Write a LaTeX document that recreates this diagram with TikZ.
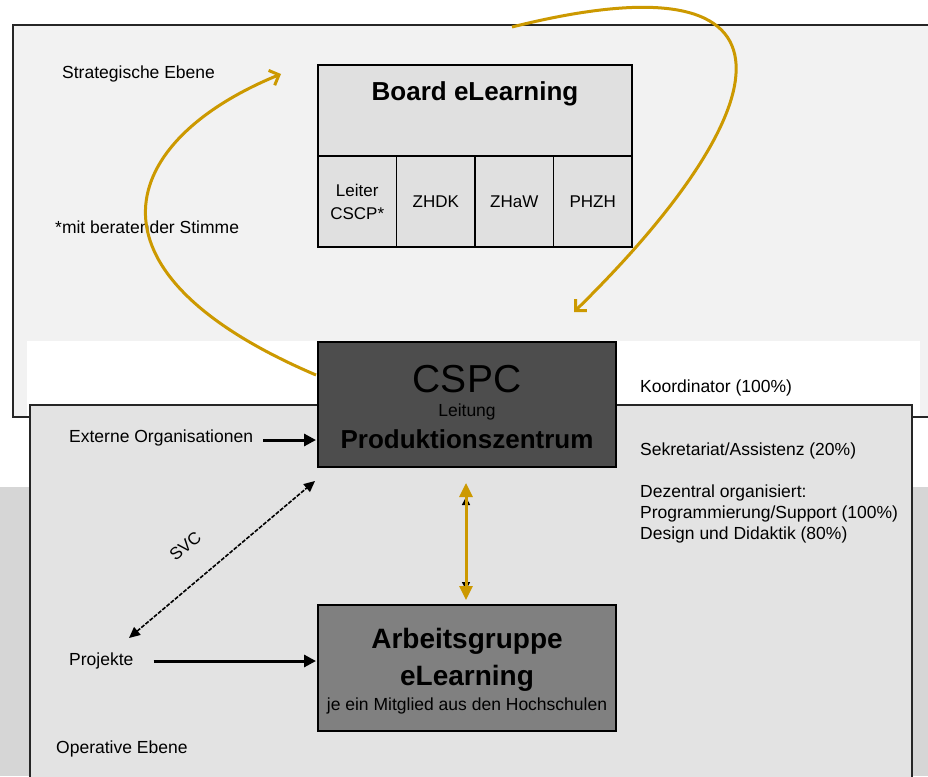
\documentclass[tikz,border=0pt]{standalone}
\usepackage{fontspec}
\setmainfont{Liberation Sans}
\usetikzlibrary{positioning, calc, arrows.meta}
\definecolor{gold}{RGB}{204,153,0}
\definecolor{upperbg}{RGB}{242,242,242}
\definecolor{lowerbg}{RGB}{227,227,227}
\definecolor{boardfill}{RGB}{224,224,224}
\definecolor{cspcfill}{RGB}{77,77,77}
\definecolor{arbfill}{RGB}{128,128,128}
\definecolor{photo}{RGB}{214,214,214}
\tikzset{
    box/.style = {draw=black, line width=1.5pt, inner sep=0pt, outer sep=0pt, anchor=north west},
    cell/.style = {box, fill=boardfill, minimum width=78.5pt, minimum height=91pt,
        align=center, font=\fontsize{17}{23}\selectfont},
    lbl/.style = {inner sep=0pt, font=\fontsize{17.5}{21}\selectfont},
    boxtitle/.style = {inner sep=0pt, anchor=base, font=\bfseries\fontsize{26}{30}\selectfont},
    frame/.style = {draw=black!85, line width=1.2pt},
    goldarrow/.style = {gold, line width=3pt},
    blackarrow/.style = {-{Triangle[length=12pt,width=12pt]}, line width=3pt},
}

\begin{document}
\begin{tikzpicture}[x=1pt, y=-1pt]
    \useasboundingbox (0,0) rectangle (928,776);
    \fill[white] (0,0) rectangle (928,776);
    \fill[photo] (0,485) rectangle (30,776);
    \fill[photo] (912,485) rectangle (928,776);
    % the two levels
    \draw[frame, fill=upperbg] (13,25) rectangle (940,417);
    \fill[white] (27,341) rectangle (920,416.4);
    \fill[white] (0,418.6) rectangle (928,487);
    \draw[frame, fill=lowerbg] (30,405) rectangle (912,790);

    \node[lbl, anchor=base west] (strat) at (62,78) {Strategische Ebene};
    \node[lbl, anchor=base west] (stimme) at (55,233) {*mit beratender Stimme};
    \node[lbl, anchor=base west] (oper) at (56,753) {Operative Ebene};

    % board
    \node[box, fill=boardfill, minimum width=314pt, minimum height=91pt] (board) at (318,65) {};
    \node[boxtitle] (boardtitle) at ($(board.north)+(0,35)$) {Board eLearning};
    \node[cell] (leiter) at (board.south west) {Leiter\\CSCP*};
    \node[cell, right=0pt of leiter] (zhdk) {ZHDK};
    \node[cell, right=0pt of zhdk] (zhaw) {ZHaW};
    \node[cell, right=0pt of zhaw] (phzh) {PHZH};

    % CSPC
    \node[box, fill=cspcfill, minimum width=298pt, minimum height=125pt] (cspc) at (318,342) {};
    \node[inner sep=0pt, anchor=base, font=\fontsize{39}{44}\selectfont] (cspcname) at ($(cspc.north)+(0,50)$) {CSPC};
    \node[lbl, anchor=base] (leitung) at ($(cspc.north)+(0,74)$) {Leitung};
    \node[boxtitle] (prod) at ($(cspc.north)+(0,106)$) {Produktionszentrum};

    % Arbeitsgruppe
    \node[box, fill=arbfill, minimum width=298pt, minimum height=126pt] (arb) at (318,605) {};
    \node[boxtitle, font=\bfseries\fontsize{28}{32}\selectfont] (arbtitle) at ($(arb.north)+(0,43)$) {Arbeitsgruppe};
    \node[boxtitle, font=\bfseries\fontsize{28}{32}\selectfont] (arbelearn) at ($(arb.north)+(0,80)$) {eLearning};
    \node[lbl, anchor=base] (mitglied) at ($(arb.north)+(0,105)$) {je ein Mitglied aus den Hochschulen};

    % right side
    \node[lbl, anchor=base west] (koord) at (640,392) {Koordinator (100\%)};
    \node[lbl, anchor=base west] (sekr) at (640,455) {Sekretariat/Assistenz (20\%)};
    \node[lbl, anchor=base west] (dez) at (640,497) {Dezentral organisiert:};
    \node[lbl, anchor=base west] (prog) at (640,518) {Programmierung/Support (100\%)};
    \node[lbl, anchor=base west] (design) at (640,539) {Design und Didaktik (80\%)};

    % left side
    \node[lbl, anchor=base west] (ext) at (69,442) {Externe Organisationen};
    \node[lbl, anchor=base west] (proj) at (69,665) {Projekte};
    \draw[blackarrow] ($(ext.base east)+(10,-2)$) -- ($(cspc.west |- ext.base)+(-2,-2)$);
    \draw[blackarrow] ($(proj.base east)+(20,-4)$) -- ($(arb.west |- proj.base)+(-2,-4)$);

    \coordinate (svcproj) at (129,638);
    \coordinate (svccspc) at (315,481);
    \draw[line width=1.6pt, dash pattern=on 4pt off 1.5pt,
        {Triangle[length=11pt,width=10pt]}-{Triangle[length=11pt,width=10pt]}] (svcproj) -- (svccspc)
        node[pos=0.42, sloped, above=27pt, inner sep=0pt, font=\fontsize{17}{20}\selectfont] (svc) {SVC};

    % gold links
    \coordinate (upTip) at (281,74);
    \coordinate (loopStart) at (512,27);
    \coordinate (downTip) at (574,312);
    \draw[goldarrow, -{Straight Barb[length=8pt,width=16pt]}]
        ($(cspc.north west)+(-2,33)$) .. controls (70,270) and (120,140) .. (upTip);
    \draw[goldarrow, -{Straight Barb[length=8pt,width=16pt]}]
        (loopStart) .. controls (820,-50) and (780,110) .. (downTip);
    \draw[line width=1.5pt, {Triangle[length=8pt,width=8pt]}-{Triangle[length=8pt,width=8pt]}]
        ($(cspc.south)+(-1,30)$) -- ($(arb.north)+(-1,-15)$);
    \draw[goldarrow, {Triangle[length=14pt,width=13pt]}-{Triangle[length=14pt,width=13pt]}]
        ($(cspc.south)+(-1,16)$) -- ($(arb.north)+(-1,-5)$);
\end{tikzpicture}
\end{document}
